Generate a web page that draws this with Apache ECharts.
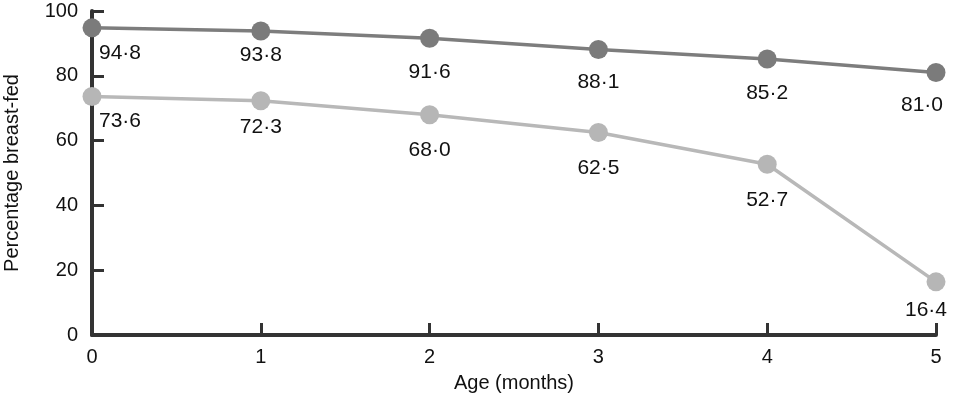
<!DOCTYPE html>
<html><head><meta charset="utf-8">
<script src="https://cdn.jsdelivr.net/npm/echarts@6/dist/echarts.min.js"></script>
<style>html,body{margin:0;padding:0;background:#fff}#c{width:959px;height:402px}</style>
</head><body><div id="c"></div>
<script>
var ageMonths = [0, 1, 2, 3, 4, 5];
var seriesA = [94.8, 93.8, 91.6, 88.1, 85.2, 81.0];
var seriesB = [73.6, 72.3, 68.0, 62.5, 52.7, 16.4];
var yTicks = [0, 20, 40, 60, 80, 100];

var offsA = [[28,25],[0,24],[0,34],[0,33],[0,34],[-14,33]];
var offsB = [[28,25],[0,26],[0,36],[0,36],[0,36],[-10,28]];

function fmt(v){ return v.toFixed(1).replace('.', '\u00b7'); }
function mk(vals, offs){
  return vals.map(function(v,i){
    return {value:[ageMonths[i], v], label:{offset:offs[i]}};
  });
}
var FF = 'Liberation Sans, Arial, sans-serif';
var lbl = {show:true, position:'inside', color:'#111', fontSize:21, fontFamily:FF,
  formatter:function(p){return fmt(p.value[1]);}};

var chart = echarts.init(document.getElementById('c'));
chart.setOption({
  animation:false,
  grid:{left:92, right:23, top:11, bottom:67, outerBoundsMode:'none', containLabel:false},
  xAxis:{type:'value', min:0, max:5, interval:1,
    name:'Age (months)', nameLocation:'middle', nameGap:38,
    nameTextStyle:{fontSize:20, color:'#111', fontFamily:FF},
    axisLine:{lineStyle:{color:'#333', width:4}},
    axisTick:{inside:true, length:12, lineStyle:{color:'#333', width:3}},
    axisLabel:{fontSize:20, color:'#111', margin:12, fontFamily:FF},
    splitLine:{show:false}},
  yAxis:{type:'value', min:0, max:100, interval:20,
    name:'Percentage breast-fed', nameLocation:'middle', nameGap:70,
    nameTextStyle:{fontSize:20, color:'#111', fontFamily:FF},
    axisLine:{show:true, lineStyle:{color:'#333', width:4}},
    axisTick:{show:true, inside:true, length:12, lineStyle:{color:'#333', width:3}},
    axisLabel:{fontSize:20, color:'#111', margin:14, fontFamily:FF,
      formatter:function(v){return yTicks.indexOf(v)>=0 ? String(v) : '';}},
    splitLine:{show:false}},
  series:[
    {type:'line', data:mk(seriesA, offsA), symbol:'circle', symbolSize:19,
     lineStyle:{color:'#7d7d7d', width:3.5}, itemStyle:{color:'#7b7b7b'}, label:lbl, z:3},
    {type:'line', data:mk(seriesB, offsB), symbol:'circle', symbolSize:19,
     lineStyle:{color:'#b8b8b8', width:3.5}, itemStyle:{color:'#b6b6b6'}, label:lbl, z:2}
  ]
});
</script></body></html>
